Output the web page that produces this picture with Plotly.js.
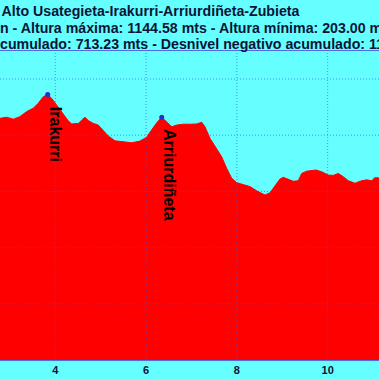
<!DOCTYPE html>
<html>
<head>
<meta charset="utf-8">
<script src="https://cdn.plot.ly/plotly-3.0.1.min.js"></script>
<style>
  html, body { margin: 0; padding: 0; background: #66ffff; overflow: hidden; }
  #chart { width: 379px; height: 379px; }
</style>
</head>
<body>
<div id="chart"></div>
<script>
// Profile data (distance in km, altitude in m)
const distKm = [2.75, 2.782, 2.930, 3.075, 3.222, 3.370, 3.515, 3.626, 3.736, 3.833, 3.921, 4.031, 4.176, 4.286, 4.361, 4.507, 4.604, 4.654, 4.727, 4.837, 4.947, 5.057, 5.167, 5.315, 5.498, 5.683, 5.866, 6.013, 6.123, 6.233, 6.344, 6.454, 6.564, 6.674, 6.819, 6.967, 7.115, 7.225, 7.297, 7.407, 7.518, 7.665, 7.775, 7.885, 7.996, 8.141, 8.289, 8.436, 8.546, 8.619, 8.729, 8.839, 8.949, 9.022, 9.132, 9.242, 9.352, 9.427, 9.537, 9.648, 9.742, 9.868, 10.013, 10.123, 10.233, 10.344, 10.454, 10.601, 10.749, 10.859, 10.969, 11.042, 11.130, 11.2];
const altM = [1060, 1060, 1064, 1057, 1066, 1084, 1096, 1114, 1137, 1144.58, 1131, 1108, 1078, 1051, 1040, 1042, 1057, 1064, 1052, 1042, 1036, 1016, 997, 980, 976, 973, 979, 993, 1019, 1044, 1064, 1048, 1030, 1036, 1039, 1039, 1040, 1046, 1030, 989, 959, 923, 882, 847, 831, 823, 817, 802, 793, 787, 795, 819, 844, 850, 843, 836, 838, 864, 872, 873, 876, 870, 858, 857, 864, 852, 838, 829, 838, 841, 838, 849, 847, 847];

// Named peaks
const peakNames = ["Irakurri", "Arriurdiñeta"];
const peakKm = [3.833, 6.344];
const peakAlt = [1144.58, 1064];

// Axis ticks
const xTickVals = [4, 6, 8, 10];
const xTickText = ["4", "6", "8", "10"];
const yGridVals = [400, 600, 800, 1000, 1200];

// Title lines (visible portions)
const titleLine1 = "Alto Usategieta-Irakurri-Arriurdiñeta-Zubieta";
const titleLine2 = "n - Altura máxima: 1144.58 mts - Altura mínima: 203.00 mts";
const titleLine3 = "cumulado: 713.23 mts - Desnivel negativo acumulado: 115";

const cyan = "#66ffff";
const textColor = "#0c1438";
const gridColor = "rgba(40,90,255,0.65)";

const traces = [
  {
    x: distKm, y: altM, type: "scatter", mode: "lines",
    fill: "tozeroy", fillcolor: "#ff0000",
    line: { color: "#ff0000", width: 1 },
    hoverinfo: "skip", showlegend: false
  },
  {
    x: peakKm, y: peakAlt, type: "scatter", mode: "markers",
    marker: { color: "#2030d0", size: 5 },
    hoverinfo: "skip", showlegend: false
  }
];

const shapes = [];
xTickVals.forEach(v => shapes.push({
  type: "line", layer: "above", xref: "x", yref: "paper",
  x0: v, x1: v, y0: 0, y1: 1,
  line: { color: gridColor, width: 1, dash: "1px,2px" }
}));
yGridVals.forEach(v => shapes.push({
  type: "line", layer: "above", xref: "paper", yref: "y",
  x0: 0, x1: 1, y0: v, y1: v,
  line: { color: gridColor, width: 1, dash: "1px,2px" }
}));

const annotations = [];
peakNames.forEach((name, i) => annotations.push({
  x: peakKm[i], y: peakAlt[i], xref: "x", yref: "y",
  text: "<b>" + name + "</b>", showarrow: false, textangle: 90,
  xanchor: "left", yanchor: "top", yshift: -10, xshift: -2,
  font: { family: "Liberation Sans, Arial, sans-serif", size: 16, color: "#000000", weight: "bold" }
}));

const titleFont = { family: "Liberation Sans, Arial, sans-serif", size: 14.2, color: textColor };
annotations.push({
  xref: "paper", yref: "paper", x: 0, y: (360 - 28) / 309,
  xanchor: "left", yanchor: "middle", xshift: -2,
  text: "<b>" + titleLine2 + "</b>", showarrow: false, font: titleFont
});
annotations.push({
  xref: "paper", yref: "paper", x: 0, y: (360 - 44) / 309,
  xanchor: "left", yanchor: "middle", xshift: -2,
  text: "<b>" + titleLine3 + "</b>", showarrow: false, font: titleFont
});

const layout = {
  width: 379, height: 379,
  margin: { l: 0, r: 0, t: 51, b: 19, pad: 0 },
  paper_bgcolor: cyan, plot_bgcolor: cyan,
  title: {
    text: "<b>" + titleLine1 + "</b>",
    x: 150.5 / 379, xref: "container", xanchor: "center",
    y: 1 - 11 / 379, yref: "container", yanchor: "middle",
    font: titleFont
  },
  xaxis: {
    range: [2.782, 11.130], tickmode: "array", tickvals: xTickVals, ticktext: xTickText,
    showgrid: false, zeroline: false, showline: true, mirror: true,
    linecolor: "#4a6ee8", linewidth: 1, ticks: "",
    tickfont: { family: "Liberation Sans, Arial, sans-serif", size: 11, color: textColor, weight: "bold" },
    fixedrange: true
  },
  yaxis: {
    range: [200, 1299.6], showgrid: false, zeroline: false, showticklabels: false,
    showline: true, mirror: true, linecolor: "#4a6ee8", linewidth: 1, ticks: "",
    fixedrange: true
  },
  shapes: shapes,
  annotations: annotations,
  showlegend: false
};

Plotly.newPlot("chart", traces, layout, { displayModeBar: false, staticPlot: true });
</script>
</body>
</html>
